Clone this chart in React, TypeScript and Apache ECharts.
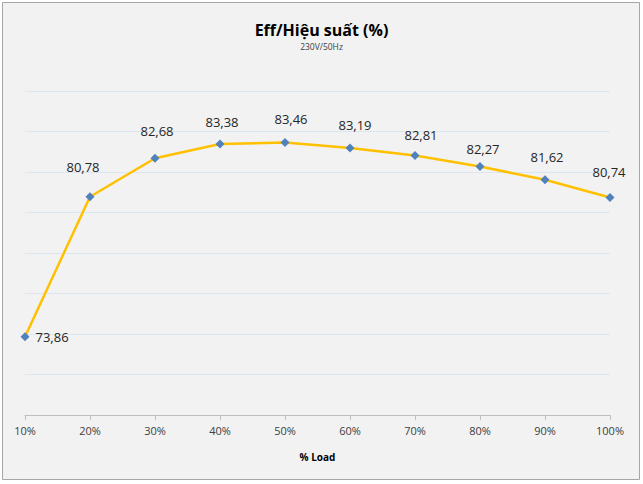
import React, { useEffect, useRef } from "react";
import * as echarts from "echarts";

const categories = ["10%", "20%", "30%", "40%", "50%", "60%", "70%", "80%", "90%", "100%"];
const efficiency = [73.86, 80.78, 82.68, 83.38, 83.46, 83.19, 82.81, 82.27, 81.62, 80.74];
const yMin = 70;
const yMax = 86;
const yInterval = 2;
// per-label nudges (style only), mimicking the reference's label placement
const labelNudges: [number, number][] = [
  [0, 0], [-7, -9], [2, -6], [2, -1], [6, -2], [5, -2], [6, 0], [3, 3], [2, -2], [-1, -5],
];

export default function App() {
  const ref = useRef<HTMLDivElement>(null);
  useEffect(() => {
    document.body.style.margin = "0";
    const chart = echarts.init(ref.current!, null, { renderer: "svg" });
    const font = "'Open Sans', 'Noto Sans', sans-serif";
    chart.setOption({
      animation: false,
      backgroundColor: "#ffffff",
      graphic: [
        {
          type: "rect",
          shape: { x: 2.5, y: 2.5, width: 637, height: 477 },
          style: { fill: "#f2f2f2", stroke: "#a6a6a6", lineWidth: 1 },
          z: -10,
          silent: true,
        },
      ],
      title: {
        text: "Eff/Hiệu suất (%)",
        subtext: "230V/50Hz",
        left: "center",
        top: 17,
        itemGap: 4,
        textStyle: { fontFamily: font, fontSize: 16, fontWeight: "bold", color: "#000000" },
        subtextStyle: { fontFamily: font, fontSize: 8.5, color: "#404040" },
      },
      grid: { left: 25, right: 33, top: 91, bottom: 69 },
      xAxis: {
        type: "category",
        data: categories,
        boundaryGap: false,
        name: "% Load",
        nameLocation: "middle",
        nameGap: 37,
        nameTextStyle: { fontFamily: font, fontSize: 10, fontWeight: "bold", color: "#000000" },
        axisLine: { lineStyle: { color: "#bfbfbf", width: 1 } },
        axisTick: { alignWithLabel: true, length: 5, lineStyle: { color: "#bfbfbf" } },
        axisLabel: { fontFamily: font, fontSize: 11, color: "#404040", margin: 10 },
      },
      yAxis: {
        type: "value",
        min: yMin,
        max: yMax,
        interval: yInterval,
        axisLine: { show: false },
        axisTick: { show: false },
        axisLabel: { show: false },
        splitLine: { lineStyle: { color: "#dce6f2", width: 1 } },
      },
      series: [
        {
          type: "line",
          data: efficiency.map((v, i) =>
            i === 0
              ? { value: v, label: { position: "right", distance: 6 } }
              : { value: v, label: { offset: labelNudges[i] } }
          ),
          lineStyle: { color: "#ffc000", width: 2.5 },
          itemStyle: { color: "#4f81bd" },
          symbol: "diamond",
          symbolSize: 9,
          label: {
            show: true,
            position: "top",
            distance: 10,
            fontFamily: font,
            fontSize: 13,
            color: "#262626",
            formatter: (p: any) => String(p.value).replace(".", ","),
          },
        },
      ],
    });
    return () => chart.dispose();
  }, []);
  return <div ref={ref} style={{ width: 643, height: 484 }} />;
}
